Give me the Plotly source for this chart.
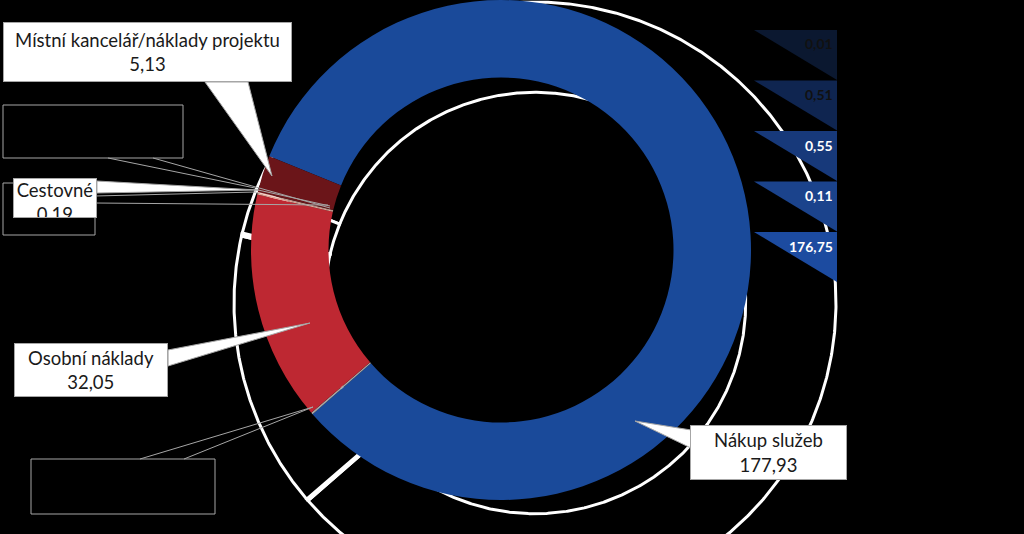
import numpy as np
import plotly.graph_objects as go

# Struktura nákladů (hodnoty z grafu)
vtLabels = ["Nákup služeb", "Ostatní 1", "Osobní náklady", "Cestovné", "Ostatní 2", "Ostatní 3",
            "Místní kancelář/náklady projektu"]
vtValues = [177.93, 0.25, 32.05, 0.19, 0.12, 0.05, 5.13]
vtColors = ["#1A4A9A", "#A6A6A6", "#BE2832", "#E3A396", "#F4D3C8", "#C98A80", "#6B1519"]

# Rozpad položky Nákup služeb (popisky vpravo)
vtDetailValues = [0.01, 0.51, 0.55, 0.11, 176.75]
vtDetailColors = ["#0B1830", "#0F2550", "#17397A", "#1B438C", "#1C4BA0"]
vtDetailText = ["#111111", "#111111", "white", "white", "white"]

W, H = 1024, 534
dStart = 158  # úhel začátku první výseče (stupně, proti směru hodinek od osy x)


def px(x):
    return x / W


def py(y):
    return 1 - y / H


def fnFmt(v):
    return f"{v:.2f}".replace(".", ",")


def fnPath(pts):
    return "M " + " L ".join(f"{px(x):.4f},{py(y):.4f}" for x, y in pts) + " Z"


fig = go.Figure()

# Vnější prstenec (černý s bílým obrysem) - výseče ze stejných dat
dHoleOut = 0.70
dTotal = sum(vtValues)
vtCum = np.concatenate([[0], np.cumsum(vtValues)])
vtAng = dStart - vtCum / dTotal * 360
for i in range(len(vtValues)):
    nPts = max(4, int(abs(vtAng[i] - vtAng[i + 1]) * 3))
    th = np.radians(np.linspace(vtAng[i], vtAng[i + 1], nPts))
    xo, yo = np.cos(th), np.sin(th)
    xs = np.concatenate([xo, dHoleOut * xo[::-1], [xo[0]]])
    ys = np.concatenate([yo, dHoleOut * yo[::-1], [yo[0]]])
    fig.add_trace(go.Scatter(x=xs, y=ys, mode="lines", fill="toself", fillcolor="black",
                             line=dict(color="white", width=3), hoverinfo="skip", showlegend=False))

# Vnitřní prstenec
dCx, dCy, dR = 501, 250, 250
fig.add_trace(go.Pie(
    labels=vtLabels, values=vtValues, hole=0.69, sort=False, direction="clockwise",
    rotation=90 - dStart,
    marker=dict(colors=vtColors, line=dict(width=0)),
    textinfo="none",
    hovertemplate="%{label}<br>%{value}<extra></extra>",
    domain=dict(x=[px(dCx - dR), px(dCx + dR)], y=[py(dCy + dR), py(dCy - dR)]),
    showlegend=False,
))

shapes = []
annotations = []
sFont = "Lato"
sBorder = "#A6A6A6"

# Prázdné rámečky s odkazovými čarami (popisky nejsou čitelné)
for x0, y0, x1, y1 in [(3, 105, 183, 158), (3, 183, 95, 235), (31, 459, 215, 514)]:
    shapes.append(dict(type="rect", xref="paper", yref="paper", x0=px(x0), x1=px(x1), y0=py(y1), y1=py(y0),
                       line=dict(color=sBorder, width=1), fillcolor="black"))
for x0, y0, x1, y1 in [(108, 158, 255, 188), (153, 158, 330, 208), (95, 196, 256, 192),
                       (95, 203, 328, 205), (140, 459, 313, 407), (184, 459, 313, 407)]:
    shapes.append(dict(type="line", xref="paper", yref="paper", x0=px(x0), x1=px(x1), y0=py(y0), y1=py(y1),
                       line=dict(color=sBorder, width=1)))

# Bílé popisky s klínem
vtCallouts = [
    # index, střed boxu, šířka, výška, klín
    (6, (147.5, 52), 289, 60, [(205, 82), (248, 82), (272, 176)]),
    (3, (55, 198), 84, 40, [(97, 181), (97, 193), (258, 190)]),
    (2, (91, 370), 154, 54, [(168, 350), (168, 366), (310, 323)]),
    (0, (768.5, 452.5), 157, 55, [(691, 430), (691, 448), (635, 421)]),
]
shapes.append(dict(type="line", xref="paper", yref="paper", x0=px(258), x1=px(330), y0=py(190), y1=py(206),
                   line=dict(color=sBorder, width=1)))
for iIdx, (cx, cy), w, h, pts in vtCallouts:
    shapes.append(dict(type="path", xref="paper", yref="paper", path=fnPath(pts),
                       fillcolor="white", line=dict(color=sBorder, width=1)))
    annotations.append(dict(
        xref="paper", yref="paper", x=px(cx), y=py(cy), xanchor="center", yanchor="middle",
        text=f"{vtLabels[iIdx]}<br>{fnFmt(vtValues[iIdx])}", showarrow=False,
        width=w - 2, height=h - 2, borderpad=0, bgcolor="white", bordercolor=sBorder, borderwidth=1,
        valign="top" if iIdx == 3 else "middle",
        font=dict(family=sFont, size=18.5, color="#1A1A1A"),
    ))

# Popisky rozpadu vpravo (trojúhelníky)
for i, v in enumerate(vtDetailValues):
    dTop = 30 + i * 50.5
    shapes.append(dict(type="path", xref="paper", yref="paper",
                       path=fnPath([(754, dTop), (837, dTop), (837, dTop + 50)]),
                       fillcolor=vtDetailColors[i], line=dict(width=0)))
    annotations.append(dict(
        xref="paper", yref="paper", x=px(835), y=py(dTop + 14), xanchor="right", yanchor="middle",
        text=f"<b>{fnFmt(v)}</b>", showarrow=False,
        font=dict(family=sFont, size=14, color=vtDetailText[i]),
    ))

# Souřadnice vnějšího prstence: střed (535, 303), poloměr 301 px
dOx, dOy, dOr = 535, 303, 301
fig.update_layout(
    width=W, height=H,
    margin=dict(l=0, r=0, t=0, b=0),
    paper_bgcolor="black", plot_bgcolor="black",
    xaxis=dict(visible=False, range=[(0 - dOx) / dOr, (W - dOx) / dOr]),
    yaxis=dict(visible=False, range=[(dOy - H) / dOr, dOy / dOr]),
    shapes=shapes,
    annotations=annotations,
    showlegend=False,
)

fig.write_html("out.html", config={"displayModeBar": False},
               post_script="document.body.style.margin='0';document.body.style.background='black';")
